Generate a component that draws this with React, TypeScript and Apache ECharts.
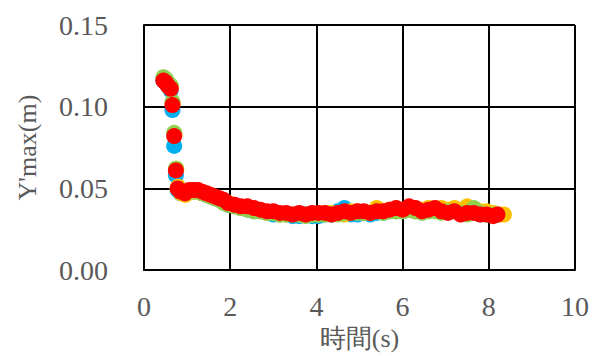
import React, { useEffect, useRef } from "react";
import * as echarts from "echarts";

const xTicks = [0, 2, 4, 6, 8, 10];
const yTicks = [0, 0.05, 0.1, 0.15];

const times = [0.45, 0.5, 0.55, 0.62, 0.66, 0.7, 0.74, 0.78, 0.85, 0.95, 1.05, 1.15, 1.25, 1.35, 1.45, 1.55, 1.65, 1.75, 1.85, 1.95, 2.1, 2.25, 2.4, 2.55, 2.7, 2.85, 3.0, 3.15, 3.3, 3.45, 3.6, 3.75, 3.9, 4.05, 4.2, 4.35, 4.5, 4.65, 4.8, 4.95, 5.1, 5.25, 5.4, 5.55, 5.7, 5.85, 6.0, 6.15, 6.3, 6.45, 6.6, 6.75, 6.9, 7.05, 7.2, 7.35, 7.5, 7.65, 7.8, 7.95, 8.1, 8.2];
const timesOrange = [0.47, 0.52, 0.57, 0.63, 0.67, 0.71, 0.75, 0.79, 0.86, 0.96, 1.06, 1.16, 1.26, 1.36, 1.46, 1.56, 1.66, 1.76, 1.86, 1.96, 2.1, 2.25, 2.4, 2.55, 2.7, 2.85, 3.0, 3.15, 3.3, 3.45, 3.6, 3.75, 3.9, 4.05, 4.2, 4.35, 4.5, 4.65, 4.8, 4.95, 5.1, 5.25, 5.4, 5.55, 5.7, 5.85, 6.0, 6.15, 6.3, 6.45, 6.6, 6.75, 6.9, 7.05, 7.2, 7.35, 7.5, 7.65, 7.8, 7.95, 8.1, 8.25, 8.35];

const orangeVals = [0.117, 0.116, 0.114, 0.112, 0.102, 0.083, 0.062, 0.051, 0.047, 0.046, 0.048, 0.048, 0.048, 0.047, 0.046, 0.045, 0.044, 0.043, 0.042, 0.041, 0.039, 0.038, 0.038, 0.037, 0.036, 0.035, 0.035, 0.034, 0.034, 0.034, 0.034, 0.034, 0.034, 0.034, 0.035, 0.035, 0.035, 0.034, 0.036, 0.036, 0.035, 0.035, 0.038, 0.036, 0.037, 0.036, 0.037, 0.037, 0.036, 0.037, 0.038, 0.037, 0.038, 0.037, 0.038, 0.037, 0.039, 0.037, 0.036, 0.036, 0.035, 0.034, 0.034];
const blueVals = [0.116, 0.115, 0.113, 0.110, 0.098, 0.076, 0.058, 0.049, 0.047, 0.047, 0.048, 0.048, 0.048, 0.047, 0.046, 0.045, 0.044, 0.043, 0.042, 0.040, 0.039, 0.038, 0.037, 0.036, 0.036, 0.035, 0.034, 0.034, 0.034, 0.033, 0.033, 0.034, 0.033, 0.033, 0.034, 0.034, 0.036, 0.038, 0.034, 0.034, 0.035, 0.034, 0.035, 0.035, 0.036, 0.036, 0.036, 0.037, 0.036, 0.036, 0.036, 0.037, 0.036, 0.036, 0.036, 0.035, 0.035, 0.035, 0.034, 0.034, 0.034, 0.034];
const greenVals = [0.118, 0.117, 0.115, 0.113, 0.103, 0.084, 0.062, 0.050, 0.048, 0.047, 0.048, 0.049, 0.048, 0.047, 0.046, 0.045, 0.044, 0.043, 0.041, 0.040, 0.039, 0.038, 0.037, 0.036, 0.036, 0.035, 0.035, 0.034, 0.034, 0.034, 0.034, 0.033, 0.034, 0.034, 0.034, 0.034, 0.034, 0.035, 0.035, 0.035, 0.035, 0.035, 0.036, 0.035, 0.036, 0.036, 0.036, 0.037, 0.036, 0.035, 0.036, 0.036, 0.035, 0.036, 0.036, 0.035, 0.034, 0.038, 0.035, 0.034, 0.034, 0.034];
const redVals = [0.116, 0.115, 0.113, 0.111, 0.101, 0.082, 0.061, 0.050, 0.048, 0.047, 0.049, 0.049, 0.049, 0.048, 0.047, 0.046, 0.045, 0.044, 0.043, 0.041, 0.040, 0.039, 0.039, 0.038, 0.037, 0.036, 0.036, 0.035, 0.035, 0.034, 0.035, 0.034, 0.035, 0.035, 0.035, 0.034, 0.035, 0.036, 0.035, 0.036, 0.036, 0.035, 0.036, 0.036, 0.037, 0.038, 0.037, 0.039, 0.038, 0.036, 0.037, 0.038, 0.036, 0.035, 0.036, 0.034, 0.035, 0.035, 0.034, 0.034, 0.033, 0.034];

const pair = (xs: number[], ys: number[]) => ys.map((y, i) => [xs[i], y]);

export default function App() {
  const ref = useRef<HTMLDivElement>(null);
  useEffect(() => {
    const chart = echarts.init(ref.current!, null, { renderer: "svg" });
    const font = "'Liberation Serif', serif";
    const mk = (name: string, color: string, data: number[][]) => ({
      name,
      type: "scatter",
      data,
      symbol: "circle",
      symbolSize: 16,
      itemStyle: { color, opacity: 1 },
    });
    chart.setOption({
      animation: false,
      backgroundColor: "#ffffff",
      grid: { left: 144, right: 28, top: 25, bottom: 84, containLabel: false },
      xAxis: {
        type: "value",
        min: 0,
        max: 10,
        interval: 2,
        name: "時間(s)",
        nameLocation: "middle",
        nameGap: 50,
        nameTextStyle: { color: "#595959", fontSize: 26, fontFamily: font },
        axisLine: { show: true, lineStyle: { color: "#000", width: 2 } },
        axisTick: { show: false },
        splitLine: { show: true, lineStyle: { color: "#000", width: 2 } },
        axisLabel: { color: "#595959", fontSize: 28, fontFamily: font, margin: 22, formatter: (v: number) => (xTicks.includes(v) ? String(v) : "") },
      },
      yAxis: {
        type: "value",
        min: 0,
        max: 0.15,
        interval: 0.05,
        name: "Y'max(m)",
        nameLocation: "middle",
        nameGap: 104,
        nameTextStyle: { color: "#595959", fontSize: 26, fontFamily: font },
        axisLine: { show: true, lineStyle: { color: "#000", width: 2 } },
        axisTick: { show: false },
        splitLine: { show: true, lineStyle: { color: "#000", width: 2 } },
        axisLabel: { color: "#595959", fontSize: 28, fontFamily: font, margin: 36, formatter: (v: number) => (yTicks.some((t) => Math.abs(t - v) < 1e-9) ? v.toFixed(2) : "") },
      },
      series: [
        mk("blue", "#00B0F0", pair(times, blueVals)),
        mk("orange", "#FFC000", pair(timesOrange, orangeVals)),
        mk("green", "#92D050", pair(times, greenVals)),
        mk("red", "#FF0000", pair(times, redVals)),
      ],
    });
    return () => chart.dispose();
  }, []);
  return <div ref={ref} style={{ width: 603, height: 356, position: "absolute", left: 0, top: 0 }} />;
}
